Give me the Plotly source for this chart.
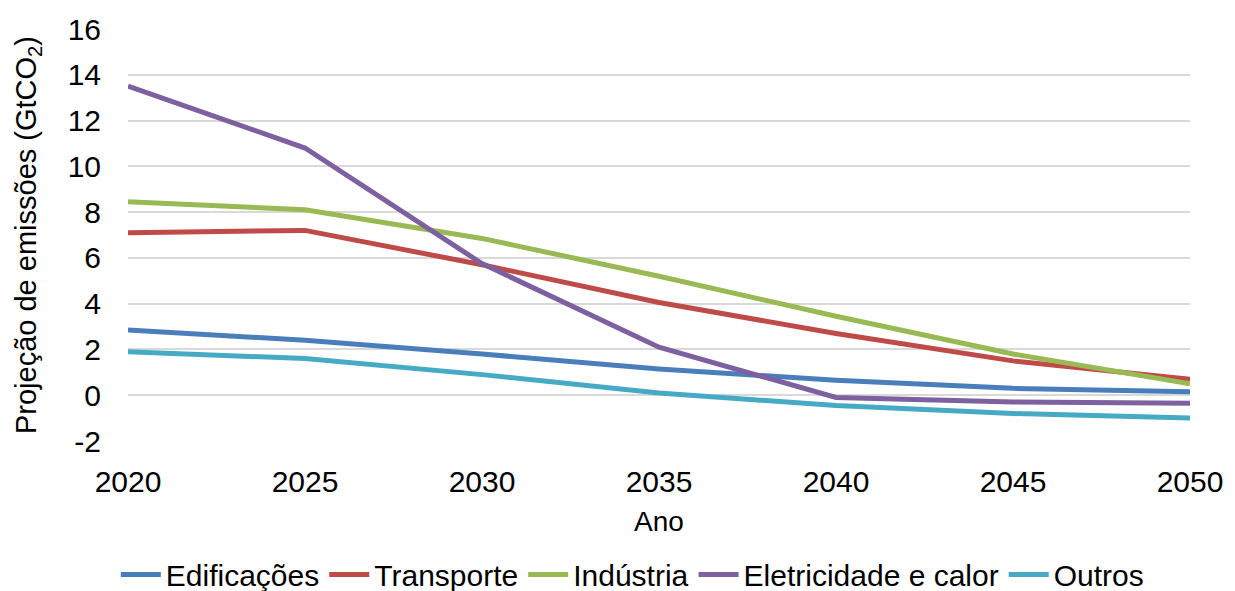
import plotly.graph_objects as go

anos = [2020, 2025, 2030, 2035, 2040, 2045, 2050]
edificacoes = [2.85, 2.4, 1.8, 1.15, 0.65, 0.3, 0.15]
transporte = [7.1, 7.2, 5.7, 4.05, 2.7, 1.5, 0.7]
industria = [8.45, 8.1, 6.85, 5.2, 3.45, 1.8, 0.5]
eletricidade = [13.5, 10.8, 5.75, 2.1, -0.1, -0.3, -0.35]
outros = [1.9, 1.6, 0.9, 0.1, -0.45, -0.8, -1.0]
y_ticks = [-2, 0, 2, 4, 6, 8, 10, 12, 14, 16]
y_labels = ["-2", "0", "2", "4", "6", "8", "10", "12", "14", "16"]

series = [
    ("Edificações", edificacoes, "#4A7EBB"),
    ("Transporte", transporte, "#BE4B48"),
    ("Indústria", industria, "#98B954"),
    ("Eletricidade e calor", eletricidade, "#7D60A0"),
    ("Outros", outros, "#46AAC5"),
]

font = "Liberation Sans, Arial, sans-serif"
fig = go.Figure()
for name, vals, color in series:
    fig.add_trace(go.Scatter(x=anos, y=vals, name=name, mode="lines",
                             line=dict(color=color, width=5)))

fig.update_layout(
    width=1235, height=591,
    margin=dict(l=128, r=38, t=26, b=150),
    plot_bgcolor="white", paper_bgcolor="white",
    font=dict(family=font, size=28, color="#000000"),
    legend=dict(orientation="h", xref="container", x=0.512, xanchor="center",
                yref="container", y=0.028, yanchor="middle", font=dict(size=30),
                itemwidth=40, tracegroupgap=0),
    showlegend=True,
)
fig.update_xaxes(range=[2020, 2050], tickvals=anos, ticktext=[str(a) for a in anos],
                 showgrid=False, zeroline=False, showline=False,
                 ticks="", ticklabelstandoff=20, tickfont=dict(size=30),
                 title=dict(text="Ano", font=dict(size=28), standoff=14))
fig.update_yaxes(range=[-2, 16], tickvals=y_ticks, ticktext=y_labels,
                 showgrid=True, gridcolor="#D9D9D9",
                 gridwidth=2, zeroline=True, zerolinecolor="#D9D9D9", zerolinewidth=2,
                 showline=False, ticks="", ticklabelstandoff=26, tickfont=dict(size=30),
                 title=dict(text="Projeção de emissões (GtCO<sub>2</sub>)",
                            font=dict(size=29), standoff=22))
fig.write_html("out.html")
